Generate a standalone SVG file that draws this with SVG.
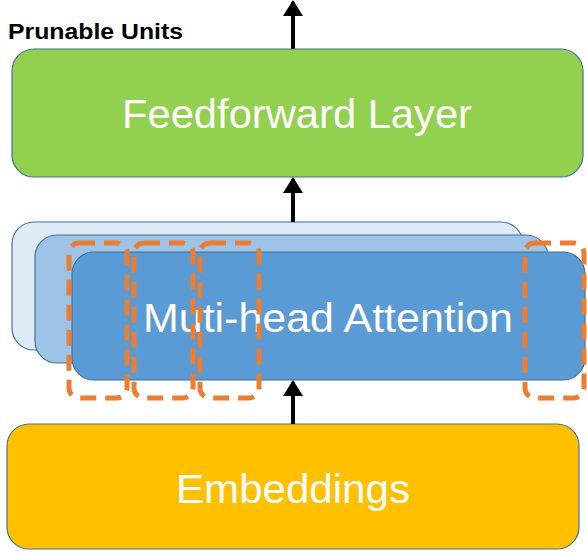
<svg xmlns="http://www.w3.org/2000/svg" width="587" height="552" viewBox="0 0 587 552">
<style>
.box{stroke:#41719C;stroke-width:1.2}
.lbl{font-family:"Liberation Sans",Arial,sans-serif;fill:#fff;font-size:40px;text-anchor:middle}
.unit{fill:none;stroke:#ED7D31;stroke-width:5;stroke-dasharray:16 9}
.conn{stroke:#000;stroke-width:4}
</style>
<defs>
<marker id="ah" markerWidth="4" markerHeight="5" refX="3.5" refY="2.5" orient="auto" markerUnits="strokeWidth">
<path d="M0,0 L4,2.5 L0,5 Z" fill="#000"/>
</marker>
</defs>
<rect width="587" height="552" fill="#fff"/>
<text x="8" y="39" font-family="'Liberation Sans',Arial,sans-serif" font-weight="bold" font-size="22" textLength="175" lengthAdjust="spacingAndGlyphs" fill="#000">Prunable Units</text>
<g id="ffn">
<rect class="box" x="12" y="49" width="571" height="128" rx="22" fill="#92D050"/>
<text class="lbl" x="297" y="128" textLength="350" lengthAdjust="spacingAndGlyphs">Feedforward Layer</text>
</g>
<g id="mha">
<rect class="box" x="12" y="222" width="511" height="128" rx="22" fill="#DEEBF7"/>
<rect class="box" x="35" y="235" width="513" height="128" rx="22" fill="#9DC3E6"/>
<rect class="box" x="72" y="252" width="513" height="128" rx="22" fill="#5B9BD5"/>
<text class="lbl" x="328" y="332" textLength="370" lengthAdjust="spacingAndGlyphs">Muti-head Attention</text>
</g>
<g id="units">
<rect class="unit" x="69" y="243" width="58" height="155" rx="10"/>
<rect class="unit" x="134" y="243" width="59" height="155" rx="10"/>
<rect class="unit" x="200" y="243" width="59" height="155" rx="10"/>
<rect class="unit" x="525" y="243" width="59" height="155" rx="10"/>
</g>
<g id="emb">
<rect class="box" x="7" y="424" width="572" height="125" rx="22" fill="#FFC000"/>
<text class="lbl" x="293" y="503" textLength="234" lengthAdjust="spacingAndGlyphs">Embeddings</text>
</g>
<g id="connectors">
<line class="conn" x1="293" y1="49" x2="293" y2="2" marker-end="url(#ah)"/>
<line class="conn" x1="293" y1="222" x2="293" y2="179" marker-end="url(#ah)"/>
<line class="conn" x1="293" y1="424" x2="293" y2="382" marker-end="url(#ah)"/>
</g>
</svg>
